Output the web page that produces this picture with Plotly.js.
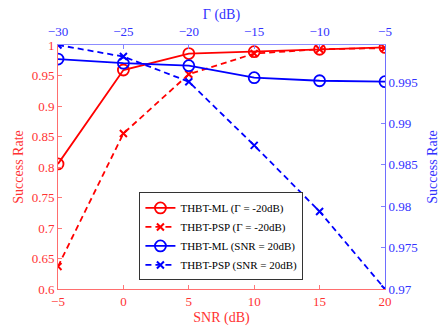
<!DOCTYPE html>
<html><head><meta charset="utf-8">
<script src="https://cdn.plot.ly/plotly-3.0.1.min.js"></script>
<style>html,body{margin:0;padding:0;background:#fff}#chart{width:447px;height:335px}</style>
</head><body><div id="chart"></div>
<script>
const snr = [-5, 0, 5, 10, 15, 20];
const gamma = [-30, -25, -20, -15, -10, -5];
const mlGamma20 = [0.805, 0.959, 0.986, 0.989, 0.993, 0.996];
const pspGamma20 = [0.637, 0.855, 0.952, 0.986, 0.993, 0.995];
const mlSnr20 = [0.9978, 0.9973, 0.9970, 0.99555, 0.99518, 0.99506];
const pspSnr20 = [0.9995, 0.9981, 0.99506, 0.98736, 0.97937, 0.9700];
const leftTicks = [0.6, 0.65, 0.7, 0.75, 0.8, 0.85, 0.9, 0.95, 1];
const rightTicks = [0.97, 0.975, 0.98, 0.985, 0.99, 0.995];

const RED = 'rgb(255,0,0)', BLUE = 'rgb(0,0,255)';
const FONT = "'Liberation Serif', serif";
const dash = '6px,4px';

const traces = [
  {x: snr, y: mlGamma20, name: 'THBT-ML (Γ = -20dB)', xaxis: 'x', yaxis: 'y', mode: 'lines+markers',
   line: {color: RED, width: 1.8}, marker: {symbol: 'circle-open', size: 11, color: RED, line: {width: 1.8}}},
  {x: snr, y: pspGamma20, name: 'THBT-PSP (Γ = -20dB)', xaxis: 'x', yaxis: 'y', mode: 'lines+markers',
   line: {color: RED, width: 1.8, dash: dash}, marker: {symbol: 'x-thin-open', size: 7, color: RED, line: {width: 2, color: RED}}},
  {x: gamma, y: mlSnr20, name: 'THBT-ML (SNR = 20dB)', xaxis: 'x2', yaxis: 'y2', mode: 'lines+markers',
   line: {color: BLUE, width: 1.8}, marker: {symbol: 'circle-open', size: 11, color: BLUE, line: {width: 1.8}}},
  {x: gamma, y: pspSnr20, name: 'THBT-PSP (SNR = 20dB)', xaxis: 'x2', yaxis: 'y2', mode: 'lines+markers',
   line: {color: BLUE, width: 1.8, dash: dash}, marker: {symbol: 'x-thin-open', size: 7, color: BLUE, line: {width: 2, color: BLUE}}}
];

const layout = {
  width: 447, height: 335,
  margin: {l: 58, r: 62, t: 45, b: 46},
  paper_bgcolor: '#fff', plot_bgcolor: '#fff',
  font: {family: FONT, size: 13},
  showlegend: true,
  legend: {x: 0.249, y: 0.035, xanchor: 'left', yanchor: 'bottom', bgcolor: '#fff',
    bordercolor: '#333', borderwidth: 1, font: {family: FONT, size: 11, color: '#000'},
    tracegroupgap: 0, itemwidth: 30},
  xaxis: {range: [-5, 20], tickvals: snr, ticks: 'inside', ticklen: 4, tickcolor: 'rgb(255,120,120)',
    showgrid: false, zeroline: false, showline: true, linecolor: 'rgb(255,110,110)', linewidth: 1,
    tickfont: {color: 'rgb(255,50,50)', family: FONT, size: 13},
    title: {text: 'SNR (dB)', font: {color: 'rgb(255,50,50)', family: FONT, size: 14}, standoff: 4}, automargin: false},
  yaxis: {range: [0.6, 1], tickvals: leftTicks, ticktext: leftTicks.map(String), ticks: 'inside', ticklen: 4,
    tickcolor: 'rgb(255,120,120)', showgrid: false, zeroline: false, showline: true, linecolor: 'rgb(255,110,110)', linewidth: 1,
    tickfont: {color: 'rgb(255,50,50)', family: FONT, size: 13},
    title: {text: 'Success Rate', font: {color: 'rgb(255,50,50)', family: FONT, size: 14}, standoff: 4}, automargin: false},
  xaxis2: {overlaying: 'x', side: 'top', range: [-30, -5], tickvals: gamma, ticks: 'inside', ticklen: 4,
    tickcolor: 'rgb(130,130,255)', showgrid: false, zeroline: false, showline: true, linecolor: 'rgb(140,140,255)', linewidth: 1,
    tickfont: {color: 'rgb(50,50,255)', family: FONT, size: 13}, ticklabelstandoff: 3,
    title: {text: 'Γ (dB)', font: {color: 'rgb(50,50,255)', family: FONT, size: 14}, standoff: 0}, automargin: false},
  yaxis2: {overlaying: 'y', side: 'right', range: [0.97, 0.9995], tickvals: rightTicks, ticktext: rightTicks.map(String),
    ticks: 'inside', ticklen: 4, tickcolor: 'rgb(130,130,255)', showgrid: false, zeroline: false, showline: true,
    linecolor: 'rgb(110,110,255)', linewidth: 1,
    tickfont: {color: 'rgb(50,50,255)', family: FONT, size: 13},
    title: {text: 'Success Rate', font: {color: 'rgb(50,50,255)', family: FONT, size: 14}, standoff: 10}, automargin: false}
};

Plotly.newPlot('chart', traces, layout, {displayModeBar: false, staticPlot: true});
</script></body></html>
